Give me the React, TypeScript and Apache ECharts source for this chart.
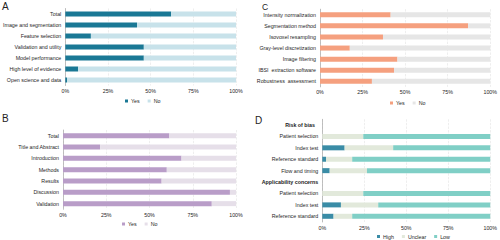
import React, { useEffect, useRef } from "react";
import * as echarts from "echarts";

const aCategories = ["Total", "Image and segmentation", "Feature selection", "Validation and utility", "Model performance", "High level of evidence", "Open science and data"];
const aYes = [62, 42, 15, 46, 46, 7.5, 1];

const bCategories = ["Total", "Title and Abstract", "Introduction", "Methods", "Results", "Discussion", "Validation"];
const bYes = [61.5, 21.5, 68.5, 60, 57, 96.5, 86];

const cCategories = ["Intensity normalization", "Segmentation method", "Isovoxel resampling", "Gray-level discretization", "Image filtering", "IBSI  extraction software", "Robustness  assessment"];
const cYes = [41.5, 87, 37, 17.5, 45.5, 43.5, 30.5];

const dCategories = ["Risk of bias", "Patient selection", "Index test", "Reference standard", "Flow and timing", "Applicability concerns", "Patient selection", "Index test", "Reference standard"];
const dHeaderRows = [0, 5];
const dHigh: (number | null)[] = [null, 0, 13.3, 2.2, 4.4, null, 0, 11.1, 6.7];
const dUnclear: (number | null)[] = [null, 24.4, 28.9, 15.6, 22.2, null, 24.4, 22.2, 11.1];

const xTicks = [0, 25, 50, 75, 100];

const FONT = "Liberation Sans, Arial, sans-serif";
const TXT = "#262626";

export default function App() {
  const ref = useRef<HTMLDivElement>(null);
  useEffect(() => {
    if (!ref.current) return;
    const chart = echarts.init(ref.current, null, { renderer: "svg" });
    const aNo = aYes.map((v) => 100 - v);
    const bNo = bYes.map((v) => 100 - v);
    const cNo = cYes.map((v) => 100 - v);
    const dLow = dHigh.map((h, i) => (h === null ? null : 100 - h - (dUnclear[i] as number)));

    const grids = [
      { left: 63, width: 173, top: 8.5, height: 77 },
      { left: 63, width: 173, top: 130, height: 79.3 },
      { left: 320, width: 173, top: 9.2, height: 77.7 },
      { left: 322.3, width: 170.7, top: 119.3, height: 102.7 },
    ];
    const xAxis = grids.map((_, i) => ({
      type: "value",
      gridIndex: i,
      min: 0,
      max: 100,
      interval: 25,
      axisLine: { show: false },
      axisTick: { show: false },
      splitLine: { show: true, lineStyle: { color: "#e2e2e2", type: "dashed", width: 0.6 } },
      axisLabel: { fontSize: 5.3, color: TXT, fontFamily: FONT, margin: 3, formatter: (v: number) => (xTicks.includes(v) ? v + "%" : "") },
    }));
    const cats = [aCategories, bCategories, cCategories, dCategories];
    const yAxis = grids.map((_, i) => ({
      type: "category",
      gridIndex: i,
      inverse: true,
      data: cats[i].map((_c, j) => String(j)),
      axisTick: { show: false },
      axisLine: { show: true, lineStyle: { color: "#9a9a9a", width: 0.6 } },
      axisLabel: {
        fontSize: 5.3,
        color: TXT,
        fontFamily: FONT,
        margin: 4,
        formatter: (v: string) => {
          const idx = Number(v);
          if (i === 3 && dHeaderRows.includes(idx)) return "";
          return cats[i][idx];
        },
      },
    }));

    const bar = (name: string, idx: number, data: (number | null)[], color: string) => ({
      type: "bar",
      name,
      xAxisIndex: idx,
      yAxisIndex: idx,
      stack: "s" + idx,
      data,
      barWidth: 5,
      itemStyle: { color },
    });

    const colors = {
      aYes: "#1a7895",
      aNo: "#c8e2ea",
      bYes: "#b99dc8",
      bNo: "#e6dfe9",
      cYes: "#f5a07f",
      cNo: "#e6e6e6",
      dHigh: "#3a8ca6",
      dUnclear: "#e2e9db",
      dLow: "#80cfc6",
    };

    const series = [
      bar("A-Yes", 0, aYes, colors.aYes),
      bar("A-No", 0, aNo, colors.aNo),
      bar("B-Yes", 1, bYes, colors.bYes),
      bar("B-No", 1, bNo, colors.bNo),
      bar("C-Yes", 2, cYes, colors.cYes),
      bar("C-No", 2, cNo, colors.cNo),
      bar("D-High", 3, dHigh, colors.dHigh),
      bar("D-Unclear", 3, dUnclear, colors.dUnclear),
      bar("D-Low", 3, dLow, colors.dLow),
    ];

    const legend = (names: string[], left: number, top: number) => ({
      data: names,
      left,
      top,
      icon: "rect",
      itemWidth: 3,
      itemHeight: 3,
      itemGap: 8,
      padding: 0,
      selectedMode: false,
      textStyle: { fontSize: 5.3, color: TXT, fontFamily: FONT, padding: [0, 0, 0, -2] },
      formatter: (n: string) => n.split("-")[1],
    });

    const letter = (t: string, x: number, y: number, size: number) => ({
      type: "text",
      left: x,
      top: y,
      style: { text: t, fontSize: size, fill: "#222", fontFamily: FONT },
    });

    chart.setOption({
      animation: false,
      grid: grids,
      xAxis,
      yAxis,
      series,
      legend: [
        legend(["A-Yes", "A-No"], 125, 98.5),
        legend(["B-Yes", "B-No"], 122, 221.5),
        legend(["C-Yes", "C-No"], 390, 100.5),
        legend(["D-High", "D-Unclear", "D-Low"], 377, 234),
      ],
      graphic: [
        letter("A", 2, 1.5, 10),
        letter("B", 2, 113.5, 10),
        letter("C", 262, 2.5, 8.5),
        letter("D", 255, 115, 10),
        {
          type: "text",
          x: 300,
          y: 125,
          style: { text: dCategories[0], fontSize: 5.3, fontWeight: "bold", fill: "#222", fontFamily: FONT, align: "center", verticalAlign: "middle" },
        },
        {
          type: "text",
          x: 318.3,
          y: 181.7,
          style: { text: dCategories[5], fontSize: 5.3, fontWeight: "bold", fill: "#222", fontFamily: FONT, align: "right", verticalAlign: "middle" },
        },
      ],
    });
    return () => chart.dispose();
  }, []);
  return <div ref={ref} style={{ width: 500, height: 240, position: "absolute", left: 0, top: 0, background: "#fff" }} />;
}
